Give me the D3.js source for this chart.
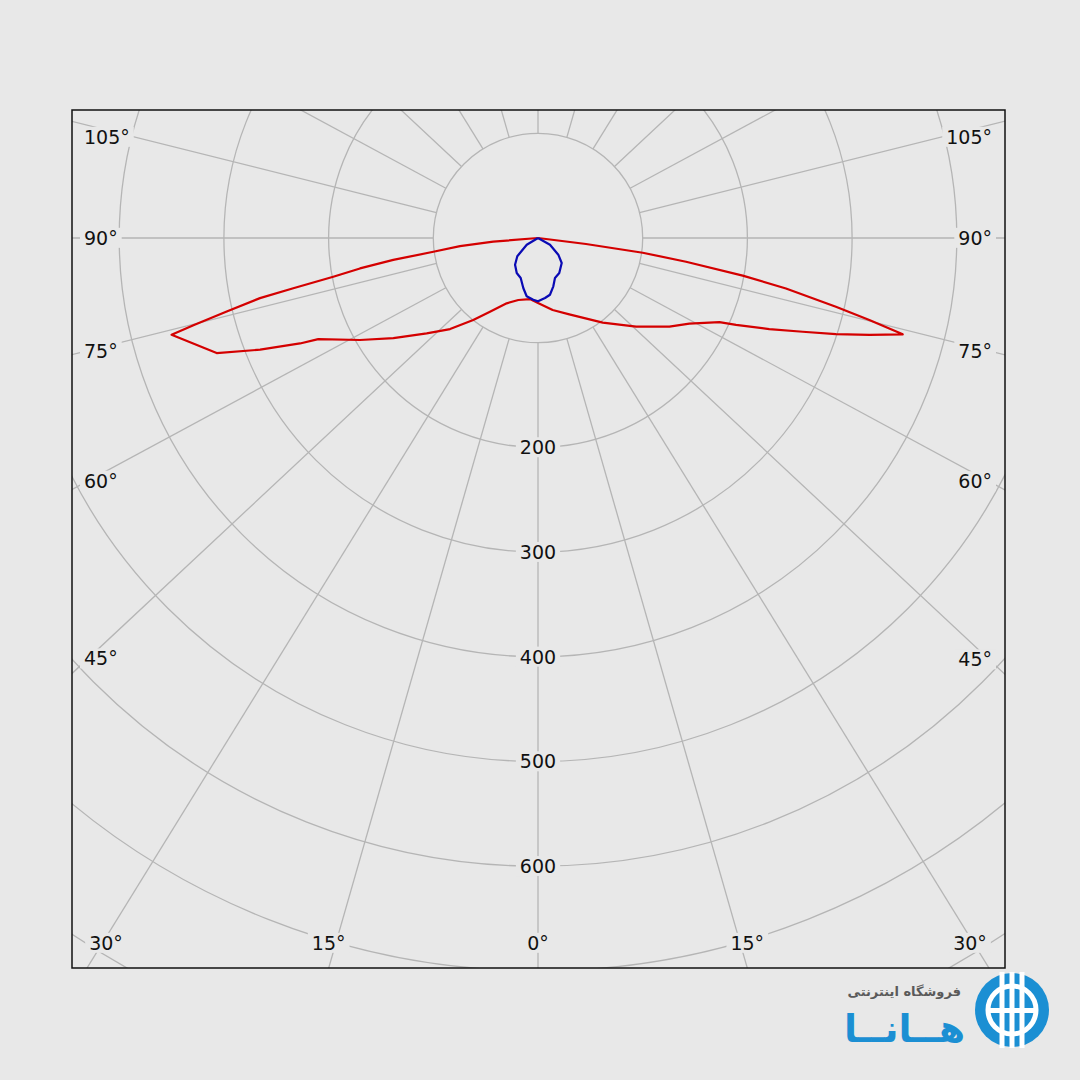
<!DOCTYPE html>
<html><head><meta charset="utf-8">
<script src="https://cdn.jsdelivr.net/npm/d3@7"></script>
<style>html,body{margin:0;padding:0;background:#e8e8e8;}svg{display:block;}</style>
</head><body>
<svg id="chart" width="1080" height="1080"></svg>
<script>
// ---- data ----
const ringValues = [100, 200, 300, 400, 500, 600, 700, 800, 900];
const ringLabels = [200, 300, 400, 500, 600];
const spokeAngles = d3.range(0, 360, 15);
const angleTicks = [0, 15, 30, 45, 60, 75, 90, 105];

// red curve (C0-C180 plane): angle from nadir (deg), intensity
const redLeftAngles = [0, 7.5, 17.6, 25.6, 33.1, 38.3, 44, 49.4, 55.3, 60.2, 65.3, 66.1, 68.1, 70.3, 75.2, 75.8, 76.7, 77.8, 78.4, 79.3, 80.3, 81.4, 82.5, 84.1, 85.3, 90];
const redLeftValues = [62, 58.8, 62.1, 69.2, 84, 99.8, 120.9, 140, 168, 196, 231, 248.6, 286, 326, 362, 339.5, 305.5, 271.7, 238.6, 199, 172.5, 139.8, 100.8, 74.9, 42.9, 0];
const redRightAngles = [0, 11.5, 22.3, 37.4, 47.9, 56, 60.5, 65.1, 66.3, 68.5, 70.5, 72.1, 73.7, 75.2, 76.1, 77, 78.5, 79.6, 80.9, 82, 82.9, 90];
const redRightValues = [62, 70.2, 78.8, 101.8, 126.3, 151.4, 166.1, 191, 206.6, 237.4, 268.2, 299, 329.7, 360.3, 326, 292, 241.7, 198.8, 143.2, 101, 46.2, 0];

// blue curve (C90-C270 plane)
const blueLeftAngles = [0, 4.4, 11, 16.4, 23.4, 31.3, 40.7, 48.5, 59.3, 90];
const blueLeftValues = [60.5, 59.1, 56.7, 49.8, 41.6, 39.1, 33.6, 26.4, 12.5, 0];
const blueRightAngles = [6.7, 11.9, 17.6, 23, 31.3, 43.5, 50.6, 60.8, 90];
const blueRightValues = [57.7, 55.4, 48.4, 41.5, 39.1, 32.9, 25.1, 13.1, 0];

// ---- layout ----
const W = 1080, H = 1080;
const P = {x0: 72, y0: 110, x1: 1005, y1: 968};
const CX = 538, CY = 238;
const SX = 1.07; // angular stretch of the grid spokes in the reference
const BG = "#e8e8e8", GRID = "#b5b5b5";
const rad = Math.PI / 180;

const svg = d3.select("#chart");
svg.append("rect").attr("width", W).attr("height", H).attr("fill", BG);

const r = d3.scaleLinear().domain([0, 100]).range([0, 104.7]);

svg.append("defs").append("clipPath").attr("id", "plotclip")
  .append("rect").attr("x", P.x0).attr("y", P.y0).attr("width", P.x1 - P.x0).attr("height", P.y1 - P.y0);

const grid = svg.append("g").attr("clip-path", "url(#plotclip)")
  .append("g").attr("transform", `translate(${CX},${CY})`);

// rings
grid.selectAll("circle.ring").data(ringValues).join("circle")
  .attr("class", "ring").attr("r", d => r(d))
  .attr("fill", "none").attr("stroke", GRID).attr("stroke-width", 1.3);

// spokes (screen direction with stretch)
function spokePhi(deg) {
  const t = deg * rad;
  return Math.atan2(SX * Math.sin(t), Math.cos(t)); // 0 = down, + = right
}
const spokeLine = d3.lineRadial().angle(d => d.a).radius(d => d.r);
grid.selectAll("path.spoke").data(spokeAngles).join("path")
  .attr("class", "spoke")
  .attr("d", d => {
    const a = Math.PI - spokePhi(d);
    return spokeLine([{a, r: r(100)}, {a, r: r(1400)}]);
  })
  .attr("fill", "none").attr("stroke", GRID).attr("stroke-width", 1.3);

// curves
const curveLine = d3.lineRadial()
  .angle(d => Math.PI - d.s * rad)
  .radius(d => r(d.v))
  .curve(d3.curveLinear);

function branch(angles, values, side) {
  return angles.map((a, i) => ({s: side * a, v: values[i]}));
}
const redPts = branch(redLeftAngles, redLeftValues, -1).reverse()
  .concat(branch(redRightAngles, redRightValues, 1).slice(1));
const bluePts = branch(blueLeftAngles, blueLeftValues, -1).reverse()
  .concat(branch(blueRightAngles, blueRightValues, 1));

const curves = svg.append("g").attr("transform", `translate(${CX},${CY})`);
curves.append("path").attr("d", curveLine(redPts))
  .attr("fill", "none").attr("stroke", "#d40000").attr("stroke-width", 2.2).attr("stroke-linejoin", "round");
curves.append("path").attr("d", curveLine(bluePts))
  .attr("fill", "none").attr("stroke", "#0a0ab4").attr("stroke-width", 2.2).attr("stroke-linejoin", "round");

// labels with background boxes
const labels = svg.append("g")
  .attr("font-family", "'DejaVu Sans', Verdana, sans-serif")
  .attr("font-size", 19).attr("fill", "#111");

function boxedText(x, y, txt, anchor) {
  const g = labels.append("g");
  const t = g.append("text").attr("x", x).attr("y", y).attr("dy", "0.36em")
    .attr("text-anchor", anchor).text(txt);
  const b = t.node().getBBox();
  g.insert("rect", "text").attr("x", b.x - 4).attr("y", b.y + 1)
    .attr("width", b.width + 8).attr("height", b.height - 2).attr("fill", BG);
}

ringLabels.forEach(v => boxedText(CX, CY + r(v), String(v), "middle"));

angleTicks.forEach(deg => {
  const sides = deg === 0 ? [1] : [-1, 1];
  sides.forEach(side => {
    const phi = spokePhi(deg);
    const sx = Math.abs(Math.sin(phi)), cy = Math.cos(phi);
    const halfW = side < 0 ? CX - P.x0 : P.x1 - CX;
    const tSide = sx > 1e-9 ? halfW / sx : Infinity;
    const tBot = cy > 1e-9 ? (P.y1 - CY) / cy : Infinity;
    const tTop = cy < -1e-9 ? (CY - P.y0) / -cy : Infinity;
    const tMin = Math.min(tSide, tBot, tTop);
    const txt = deg + "°";
    if (tMin === tBot) {
      let x = CX + side * tBot * sx;
      x = Math.max(P.x0 + 34, Math.min(P.x1 - 35, x));
      boxedText(x, P.y1 - 25, txt, "middle");
    } else if (tMin === tSide) {
      const t = (halfW - 16) / sx;
      let y = CY + t * cy;
      y = Math.max(P.y0 + 27, y);
      if (side < 0) boxedText(P.x0 + 12, y, txt, "start");
      else boxedText(P.x1 - 13, y, txt, "end");
    }
  });
});

// frame
svg.append("rect").attr("x", P.x0).attr("y", P.y0)
  .attr("width", P.x1 - P.x0).attr("height", P.y1 - P.y0)
  .attr("fill", "none").attr("stroke", "#111").attr("stroke-width", 1.5);

// logo
const logo = svg.append("g");
const LB = "#1b8fd3";
logo.append("text").attr("x", 961).attr("y", 996).attr("text-anchor", "end")
  .attr("font-family", "'DejaVu Sans', sans-serif").attr("font-weight", "bold")
  .attr("font-size", 13).attr("fill", "#5a5a5a").text("فروشگاه اینترنتی");
logo.append("text").attr("x", 965).attr("y", 1042).attr("text-anchor", "end")
  .attr("font-family", "'DejaVu Sans', sans-serif").attr("font-weight", "bold")
  .attr("font-size", 38).attr("fill", LB).text("هــانــا");
const icon = logo.append("g").attr("transform", "translate(1012,1010)");
icon.append("circle").attr("r", 37).attr("fill", LB);
icon.append("circle").attr("r", 24).attr("fill", "none").attr("stroke", "#fff").attr("stroke-width", 5);
[-10, 0, 10].forEach(x => icon.append("rect").attr("x", x - 2.5).attr("y", -38).attr("width", 5).attr("height", 76).attr("fill", "#fff"));
icon.append("rect").attr("x", -22).attr("y", -2).attr("width", 44).attr("height", 5).attr("fill", "#fff");
</script>
</body></html>
